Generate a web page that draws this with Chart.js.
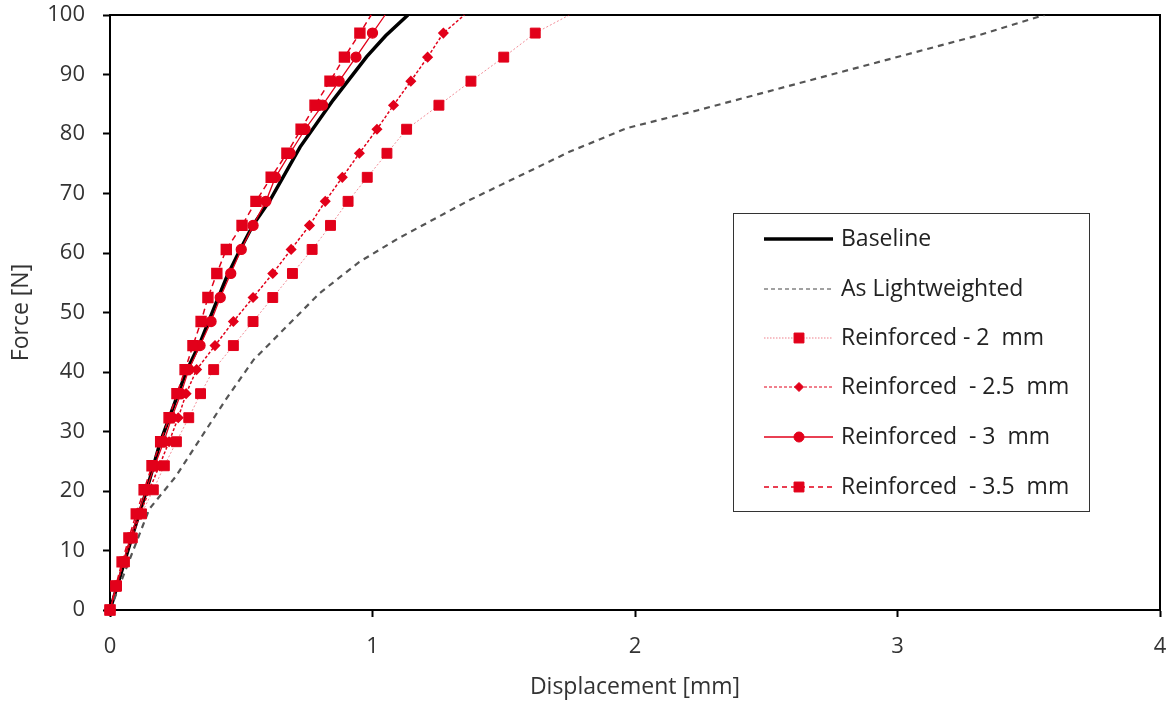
<!DOCTYPE html>
<html>
<head>
<meta charset="utf-8">
<script src="https://cdn.jsdelivr.net/npm/chart.js@4"></script>
<style>
  html, body { margin: 0; padding: 0; background: #fff; }
  #wrap { width: 1173px; height: 704px; }
</style>
</head>
<body>
<div id="wrap"><canvas id="chart" width="1173" height="704"></canvas></div>
<script>
// force levels of the reinforced test points (last one = where the line leaves the plot)
const reinfForce = [0, 4.04, 8.08, 12.12, 16.16, 20.2, 24.24, 28.28, 32.32, 36.36, 40.4, 44.44, 48.48,
    52.52, 56.56, 60.6, 64.64, 68.68, 72.72, 76.76, 80.8, 84.84, 88.88, 92.92, 96.96, 100];

// displacements [mm]
const disp2mm = [0, 0.025, 0.055, 0.085, 0.12, 0.165, 0.207, 0.253, 0.30, 0.345, 0.395, 0.47, 0.545,
    0.62, 0.695, 0.77, 0.84, 0.907, 0.98, 1.055, 1.13, 1.253, 1.375, 1.50, 1.62, 1.75];
const disp25mm = [0, 0.025, 0.052, 0.082, 0.115, 0.15, 0.188, 0.225, 0.26, 0.29, 0.33, 0.40, 0.47,
    0.545, 0.62, 0.69, 0.76, 0.82, 0.885, 0.95, 1.017, 1.08, 1.146, 1.21, 1.27, 1.35];
const disp3mm = [0, 0.024, 0.05, 0.078, 0.107, 0.138, 0.17, 0.205, 0.235, 0.27, 0.30, 0.343, 0.385,
    0.42, 0.46, 0.50, 0.545, 0.594, 0.63, 0.686, 0.743, 0.81, 0.873, 0.937, 1.00, 1.048];
const disp35mm = [0, 0.022, 0.046, 0.072, 0.10, 0.13, 0.16, 0.193, 0.225, 0.255, 0.286, 0.316, 0.347,
    0.373, 0.407, 0.443, 0.503, 0.556, 0.614, 0.674, 0.728, 0.781, 0.838, 0.893, 0.952, 0.995];

// baseline curve
const baseDisp = [0, 0.088, 0.14, 0.19, 0.29, 0.343, 0.393, 0.445, 0.495, 0.545, 0.61, 0.724, 0.85, 0.978, 1.05, 1.135];
const baseForce = [0, 12.9, 20.2, 28, 40, 44.9, 50.4, 56, 60.5, 64.7, 68.9, 77.8, 85.7, 93, 96.5, 100];

// as lightweighted curve
const lightDisp = [0, 0.15, 0.25, 0.44, 0.546, 0.8, 0.95, 1.1, 1.37, 1.75, 1.97, 2.24, 3.31, 3.56];
const lightForce = [0, 17, 22.4, 35.3, 42, 53.3, 58.5, 62.5, 68.9, 77, 81, 84, 96.6, 100];

const seriesNames = ['Baseline', 'As Lightweighted', 'Reinforced - 2  mm', 'Reinforced  - 2.5  mm',
    'Reinforced  - 3  mm', 'Reinforced  - 3.5  mm'];

const xTicks = [0, 1, 2, 3, 4];
const yTicks = [0, 10, 20, 30, 40, 50, 60, 70, 80, 90, 100];

const RED = '#e2001a';
const TEXT = '#333333';
const FONT = "'Open Sans', 'Noto Sans', sans-serif";

function toPoints(xs, ys) {
    return xs.map((x, i) => ({ x: x, y: ys[i] }));
}

// no marker on the point where the line leaves the plot
function markerRadius(r) {
    return ctx => (ctx.raw && ctx.raw.y >= 100) ? 0 : r;
}

const datasets = [
    {
        label: seriesNames[0], data: toPoints(baseDisp, baseForce),
        borderColor: '#000', borderWidth: 3.5, pointRadius: 0, order: 6
    },
    {
        label: seriesNames[1], data: toPoints(lightDisp, lightForce),
        borderColor: '#555', borderWidth: 2.2, borderDash: [6, 5], pointRadius: 0, order: 5
    },
    {
        label: seriesNames[2], data: toPoints(disp2mm, reinfForce), clip: false,
        borderColor: 'rgba(226,0,26,0.45)', borderWidth: 1, borderDash: [2, 2],
        pointStyle: 'rect', pointRadius: markerRadius(7), backgroundColor: RED, pointBorderColor: RED, order: 4
    },
    {
        label: seriesNames[3], data: toPoints(disp25mm, reinfForce), clip: false,
        borderColor: RED, borderWidth: 1.5, borderDash: [3, 2],
        pointStyle: 'rectRot', pointRadius: markerRadius(4.5), backgroundColor: RED, pointBorderColor: RED, order: 3
    },
    {
        label: seriesNames[4], data: toPoints(disp3mm, reinfForce), clip: false,
        borderColor: RED, borderWidth: 1.3,
        pointStyle: 'circle', pointRadius: markerRadius(5), backgroundColor: RED, pointBorderColor: RED, order: 2
    },
    {
        label: seriesNames[5], data: toPoints(disp35mm, reinfForce), clip: false,
        borderColor: RED, borderWidth: 1.5, borderDash: [6, 4],
        pointStyle: 'rect', pointRadius: markerRadius(7), backgroundColor: RED, pointBorderColor: RED, order: 1
    }
];

// frame round the plot area
const framePlugin = {
    id: 'frame',
    beforeDatasetsDraw(chart) {
        const a = chart.chartArea;
        const c = chart.ctx;
        c.save();
        c.strokeStyle = '#000';
        c.lineWidth = 2;
        c.strokeRect(a.left, a.top, a.right - a.left, a.bottom - a.top);
        c.restore();
    }
};

// legend box drawn inside the plot, like the original
const boxLegend = {
    id: 'boxLegend',
    afterDraw(chart) {
        const c = chart.ctx;
        const left = 733, top = 213, w = 356, h = 298;
        const rowY = [239, 289, 338, 387, 437, 487];
        const x0 = 764, x1 = 833, xm = 799, tx = 841;
        c.save();
        c.fillStyle = '#fff';
        c.fillRect(left, top, w, h);
        c.strokeStyle = '#333';
        c.lineWidth = 1;
        c.strokeRect(left + 0.5, top + 0.5, w, h);

        const styles = [
            { color: '#000', width: 3.5, dash: [] },
            { color: '#444', width: 1.2, dash: [4, 3] },
            { color: 'rgba(226,0,26,0.5)', width: 1, dash: [1.5, 1.5] },
            { color: RED, width: 1, dash: [3, 2] },
            { color: RED, width: 1.3, dash: [] },
            { color: RED, width: 1.3, dash: [5, 4] }
        ];
        chart.data.datasets.forEach((ds, i) => {
            const y = rowY[i];
            const s = styles[i];
            c.beginPath();
            c.setLineDash(s.dash);
            c.strokeStyle = s.color;
            c.lineWidth = s.width;
            c.moveTo(x0, y);
            c.lineTo(x1, y);
            c.stroke();
            c.setLineDash([]);
            if (ds.pointStyle) {
                const r = typeof ds.pointRadius === 'function' ? ds.pointRadius({ raw: { y: 0 } }) : ds.pointRadius;
                c.fillStyle = RED;
                c.strokeStyle = RED;
                c.lineWidth = 1;
                Chart.helpers.drawPoint(c, { pointStyle: ds.pointStyle, radius: r, rotation: 0, borderWidth: 1 }, xm, y);
            }
            c.fillStyle = '#222';
            c.font = "23px " + FONT;
            c.textBaseline = 'middle';
            c.textAlign = 'left';
            c.fillText(ds.label, tx, y);
        });
        c.restore();
    }
};

new Chart(document.getElementById('chart'), {
    type: 'line',
    data: { datasets: datasets },
    options: {
        responsive: false,
        animation: false,
        layout: { padding: { left: 0, top: 15, right: 13, bottom: 0 } },
        plugins: {
            legend: { display: false },
            tooltip: { enabled: false }
        },
        elements: { line: { tension: 0, fill: false } },
        scales: {
            x: {
                type: 'linear', min: 0, max: 4,
                afterFit: s => { s.height = 94; s.paddingLeft = 0; s.paddingRight = 0; },
                afterBuildTicks: s => { s.ticks = xTicks.map(v => ({ value: v })); },
                ticks: { color: TEXT, font: { family: FONT, size: 22 }, padding: 17 },
                grid: { drawOnChartArea: false, drawTicks: true, tickLength: 7, tickWidth: 2, tickColor: '#000' },
                border: { display: true, color: '#000', width: 2 },
                title: { display: true, text: 'Displacement [mm]', color: TEXT,
                    font: { family: FONT, size: 23 }, padding: { top: 0, bottom: 3 } }
            },
            y: {
                type: 'linear', min: 0, max: 100,
                afterFit: s => { s.width = 110; s.paddingTop = 0; s.paddingBottom = 0; },
                afterBuildTicks: s => { s.ticks = yTicks.map(v => ({ value: v })); },
                ticks: { color: TEXT, font: { family: FONT, size: 22 }, padding: 18 },
                grid: { drawOnChartArea: false, drawTicks: true, tickLength: 7, tickWidth: 2, tickColor: '#000' },
                border: { display: true, color: '#000', width: 2 },
                title: { display: true, text: 'Force [N]', color: TEXT,
                    font: { family: FONT, size: 23 }, padding: { top: 8, bottom: 0 } }
            }
        }
    },
    plugins: [framePlugin, boxLegend]
});
</script>
</body>
</html>
